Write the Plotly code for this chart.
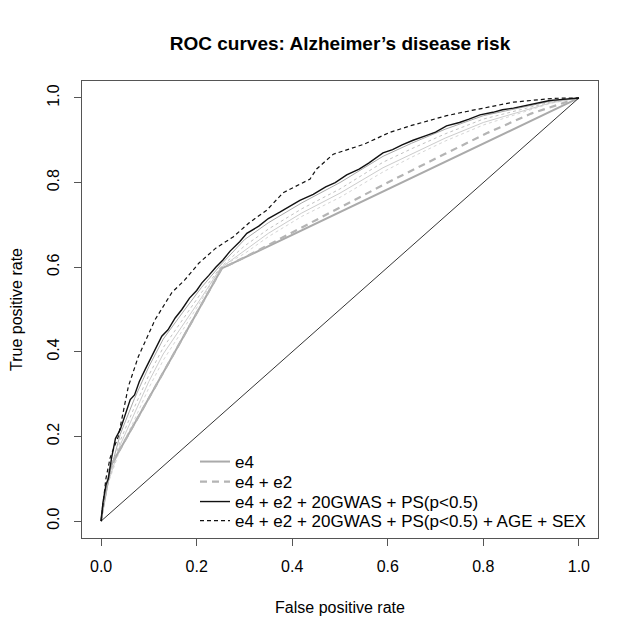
import plotly.graph_objects as go

# ---- data ----
diag_fpr = [0.0, 1.0]
diag_tpr = [0.0, 1.0]

e4_fpr = [0.0, 0.004, 0.02, 0.2525, 1.0]
e4_tpr = [0.0, 0.035, 0.13, 0.597, 1.0]

e4e2_fpr = [0.0, 0.004, 0.02, 0.06, 0.2525, 0.30, 0.49, 0.60, 0.72, 0.81, 0.90, 0.95, 1.0]
e4e2_tpr = [0.0, 0.035, 0.13, 0.21, 0.597, 0.623, 0.735, 0.800, 0.868, 0.918, 0.963, 0.982, 1.0]

gwas_fpr = [0.000, 0.004, 0.010, 0.015, 0.022, 0.030, 0.040, 0.050, 0.061, 0.070, 0.080, 0.092,
            0.100, 0.112, 0.127, 0.140, 0.155, 0.169, 0.185, 0.200, 0.211, 0.225, 0.240, 0.255,
            0.270, 0.290, 0.305, 0.330, 0.350, 0.374, 0.400, 0.416, 0.444, 0.470, 0.490, 0.514,
            0.540, 0.560, 0.590, 0.610, 0.630, 0.653, 0.680, 0.700, 0.723, 0.750, 0.770, 0.793,
            0.820, 0.840, 0.863, 0.900, 0.939, 0.960, 0.985, 1.000]
gwas_tpr = [0.000, 0.045, 0.085, 0.100, 0.150, 0.195, 0.216, 0.250, 0.287, 0.298, 0.330, 0.358,
            0.376, 0.400, 0.437, 0.452, 0.480, 0.500, 0.527, 0.545, 0.563, 0.580, 0.600, 0.617,
            0.638, 0.660, 0.680, 0.697, 0.715, 0.730, 0.748, 0.758, 0.772, 0.790, 0.800, 0.818,
            0.832, 0.846, 0.870, 0.878, 0.889, 0.900, 0.911, 0.919, 0.934, 0.942, 0.950, 0.960,
            0.966, 0.972, 0.976, 0.985, 0.994, 0.996, 0.999, 1.000]

full_fpr = [0.000, 0.010, 0.019, 0.036, 0.057, 0.078, 0.113, 0.148, 0.176, 0.205, 0.240, 0.277,
            0.310, 0.347, 0.381, 0.415, 0.437, 0.451, 0.486, 0.549, 0.605, 0.650, 0.723, 0.765,
            0.863, 0.946, 1.000]
full_tpr = [0.000, 0.100, 0.150, 0.200, 0.318, 0.389, 0.476, 0.540, 0.571, 0.610, 0.645, 0.672,
            0.705, 0.735, 0.776, 0.795, 0.808, 0.832, 0.867, 0.890, 0.919, 0.935, 0.958, 0.968,
            0.990, 0.999, 1.000]

# intermediate (unlabelled) models
mid_fpr = [0.0, 0.015, 0.04, 0.07, 0.10, 0.13, 0.17, 0.21, 0.25, 0.30, 0.35, 0.42, 0.50,
           0.59, 0.65, 0.72, 0.80, 0.87, 0.94, 1.0]
mid1_tpr = [0.0, 0.100, 0.205, 0.290, 0.365, 0.430, 0.492, 0.552, 0.605, 0.665, 0.705, 0.752,
            0.800, 0.862, 0.893, 0.926, 0.958, 0.975, 0.992, 1.0]
mid2_tpr = [0.0, 0.095, 0.190, 0.270, 0.345, 0.410, 0.475, 0.540, 0.600, 0.650, 0.690, 0.738,
            0.785, 0.848, 0.880, 0.915, 0.950, 0.970, 0.990, 1.0]
mid3_tpr = [0.0, 0.092, 0.180, 0.255, 0.330, 0.395, 0.460, 0.528, 0.598, 0.640, 0.680, 0.728,
            0.775, 0.835, 0.868, 0.905, 0.942, 0.965, 0.988, 1.0]
mid4_tpr = [0.0, 0.090, 0.170, 0.240, 0.315, 0.380, 0.450, 0.522, 0.600, 0.632, 0.672, 0.720,
            0.765, 0.825, 0.860, 0.898, 0.936, 0.962, 0.987, 1.0]

legend_labels = ["e4", "e4 + e2", "e4 + e2 + 20GWAS + PS(p<0.5)",
                 "e4 + e2 + 20GWAS + PS(p<0.5) + AGE + SEX"]
x_ticks = [0.0, 0.2, 0.4, 0.6, 0.8, 1.0]
y_ticks = [0.0, 0.2, 0.4, 0.6, 0.8, 1.0]

FONT = "Liberation Sans, Arial, sans-serif"

fig = go.Figure()

# intermediate grey curves (no legend)
for tpr, col, dash in [(mid4_tpr, "#d6d6d6", "dot"), (mid3_tpr, "#cccccc", "solid"),
                       (mid2_tpr, "#c2c2c2", "dot"), (mid1_tpr, "#a8a8a8", "solid")]:
    fig.add_trace(go.Scatter(x=mid_fpr, y=tpr, mode="lines", showlegend=False,
                             hoverinfo="skip",
                             line=dict(color=col, width=1, dash=dash)))

fig.add_trace(go.Scatter(x=e4_fpr, y=e4_tpr, mode="lines", name=legend_labels[0],
                         legend="legend",
                         line=dict(color="#aaaaaa", width=2)))
fig.add_trace(go.Scatter(x=e4e2_fpr, y=e4e2_tpr, mode="lines", name=legend_labels[1],
                         legend="legend2",
                         line=dict(color="#b4b4b4", width=2.2, dash="7px,5px")))
fig.add_trace(go.Scatter(x=gwas_fpr, y=gwas_tpr, mode="lines", name=legend_labels[2],
                         legend="legend3",
                         line=dict(color="#111111", width=1.4)))
fig.add_trace(go.Scatter(x=full_fpr, y=full_tpr, mode="lines", name=legend_labels[3],
                         legend="legend4",
                         line=dict(color="#111111", width=1.2, dash="4px,3px")))
fig.add_trace(go.Scatter(x=diag_fpr, y=diag_tpr, mode="lines", showlegend=False,
                         line=dict(color="#000000", width=0.8)))

axis_common = dict(
    range=[-0.04, 1.04], showgrid=False, zeroline=False, automargin=False,
    showline=True, linecolor="#555555", linewidth=1, mirror=True,
    ticks="outside", ticklen=7, tickcolor="#555555", tickwidth=1,
    tickfont=dict(family=FONT, size=16, color="#000000"),
    tickformat=".1f",
)

# the page body adds an 8px offset, so the figure is drawn 8px smaller
W, H = 632, 631
PLOT_LEFT, PLOT_TOP, PLOT_W, PLOT_H = 74, 73, 516, 457


def leg(row_center_px):
    # row_center_px: centre of the legend row in figure pixels
    return dict(x=113 / PLOT_W,
                y=(PLOT_TOP + PLOT_H - (row_center_px - 16)) / PLOT_H,
                xanchor="left", yanchor="top",
                bgcolor="rgba(0,0,0,0)", borderwidth=0,
                font=dict(family=FONT, size=17, color="#000000"))


fig.update_layout(
    width=W, height=H,
    margin=dict(l=PLOT_LEFT, r=W - PLOT_LEFT - PLOT_W, t=PLOT_TOP, b=H - PLOT_TOP - PLOT_H),
    paper_bgcolor="white", plot_bgcolor="white",
    font=dict(family=FONT, size=16, color="#000000"),
    title=dict(text="<b>ROC curves: Alzheimer’s disease risk</b>",
               font=dict(family=FONT, size=19, color="#000000"),
               x=0.5, xref="paper", xanchor="center",
               y=1 - 35 / H, yref="container", yanchor="middle"),
    xaxis=dict(axis_common, tickvals=x_ticks, ticklabelstandoff=7,
               title=dict(text="False positive rate", standoff=27,
                          font=dict(family=FONT, size=16))),
    yaxis=dict(axis_common, tickvals=y_ticks, tickangle=-90, ticklabelstandoff=9,
               title=dict(text="True positive rate", standoff=19,
                          font=dict(family=FONT, size=16))),
    legend=leg(452),
    legend2=leg(472),
    legend3=leg(492),
    legend4=leg(511),
    showlegend=True,
)

fig.write_html("out.html")
